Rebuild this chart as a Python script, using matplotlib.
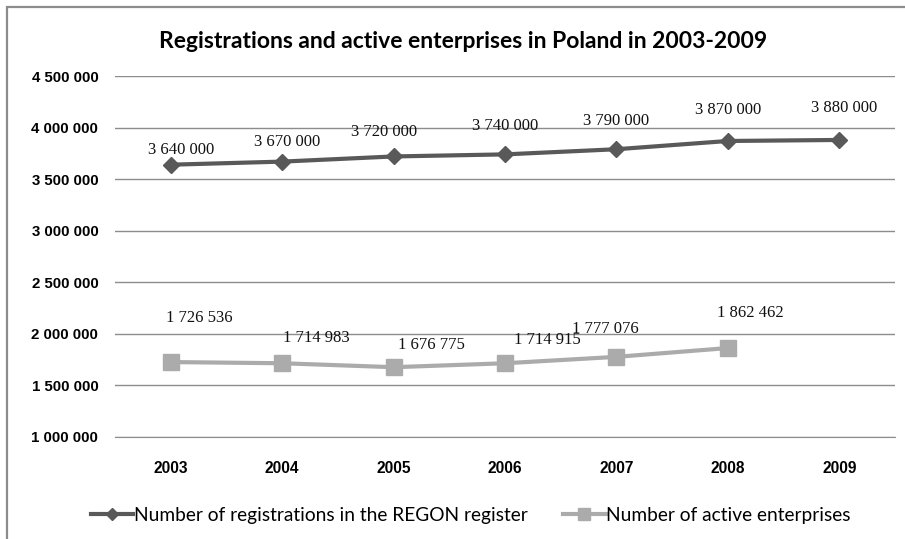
import matplotlib.pyplot as plt
from matplotlib.patches import Rectangle
from matplotlib.ticker import FuncFormatter

years = ["2003", "2004", "2005", "2006", "2007", "2008", "2009"]
registrations = [3640000, 3670000, 3720000, 3740000, 3790000, 3870000, 3880000]
active = [1726536, 1714983, 1676775, 1714915, 1777076, 1862462]

# label nudges in pixels (dx, dy) from each marker to the label centre
reg_offsets = [(10, 15), (5, 20), (-10, 24), (0, 28), (0, 28), (0, 31), (5, 32)]
act_offsets = [(29, 44), (34, 25), (38, 22), (42, 23), (-11, 28), (22, 35)]

DARK = "#595959"
LIGHT = "#ababab"


def spaced(v, pos=None):
    return f"{int(v):,}".replace(",", " ")


fig = plt.figure(figsize=(9.05, 5.39), dpi=100)
W, H = 905, 539

fig.patches.append(Rectangle((7 / W, -0.1), 1.2, 1.1 - 7 / H,
                             transform=fig.transFigure, fill=False,
                             edgecolor="#8c8c8c", linewidth=1.6))

ax = fig.add_axes([115 / W, 1 - 437 / H, 780 / W, (437 - 76) / H])
x = list(range(len(years)))

ax.plot(x, registrations, color=DARK, lw=3, marker="D", markersize=8.5,
        label="Number of registrations in the REGON register")
ax.plot(x[:len(active)], active, color=LIGHT, lw=3, marker="s", markersize=11,
        label="Number of active enterprises")

for xi, v, (dx, dy) in zip(x, registrations, reg_offsets):
    ax.annotate(spaced(v), (xi, v), xytext=(dx * 0.72, dy * 0.72),
                textcoords="offset points", ha="center", va="center",
                fontsize=12, family="Liberation Serif", color="#111111")
for xi, v, (dx, dy) in zip(x, active, act_offsets):
    ax.annotate(spaced(v), (xi, v), xytext=(dx * 0.72, dy * 0.72),
                textcoords="offset points", ha="center", va="center",
                fontsize=12, family="Liberation Serif", color="#111111")

ax.set_xlim(-0.5, 6.5)
ax.set_ylim(1000000, 4500000)
ax.set_yticks(range(1000000, 4500001, 500000))
ax.yaxis.set_major_formatter(FuncFormatter(spaced))
ax.set_xticks(x)
ax.set_xticklabels(years)
ax.grid(axis="y", color="#8c8c8c", lw=1)
ax.set_axisbelow(True)
for s in ["top", "right", "left"]:
    ax.spines[s].set_visible(False)
ax.spines["bottom"].set_color("#8c8c8c")
ax.tick_params(length=0)
ax.tick_params(axis="y", pad=12, labelsize=10.8)
ax.tick_params(axis="x", pad=17, labelsize=11.2)
for lab in ax.get_xticklabels() + ax.get_yticklabels():
    lab.set_fontweight("bold")
    lab.set_family("Liberation Sans")

fig.text(463 / W, 1 - 42 / H,
         "Registrations and active enterprises in Poland in 2003-2009",
         ha="center", va="center", fontsize=16.5, fontweight="bold", family="Lato")

fig.legend(loc="center", bbox_to_anchor=(471 / W, 1 - 515 / H), ncol=2,
           frameon=False, prop={"family": "Lato", "size": 13.8},
           handlelength=2.2, handletextpad=0.05, columnspacing=1.85,
           markerscale=0.75)

fig.savefig("out.png", dpi=100)
